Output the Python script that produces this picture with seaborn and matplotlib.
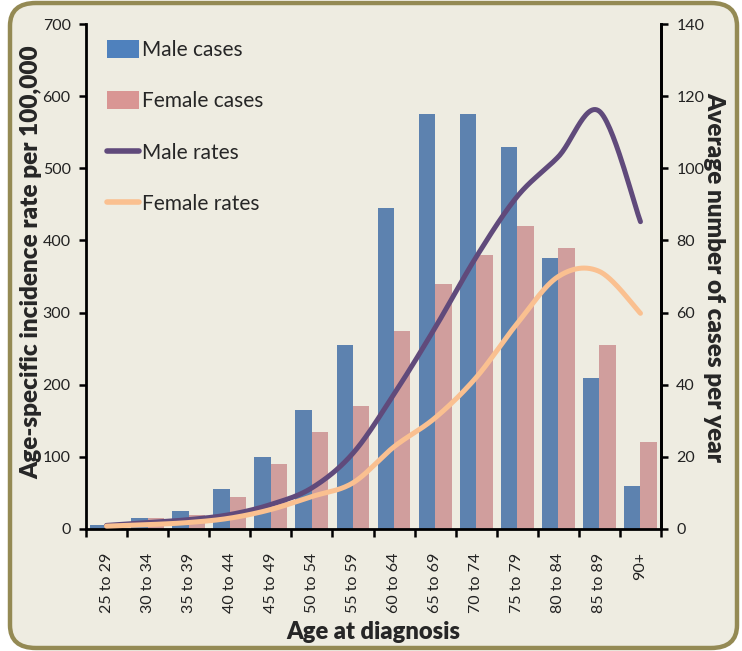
import numpy as np
import pandas as pd
import matplotlib
matplotlib.use("Agg")
import matplotlib.pyplot as plt
from matplotlib.patches import FancyBboxPatch, Patch
from matplotlib.lines import Line2D
import seaborn as sns

age_groups = ["25 to 29", "30 to 34", "35 to 39", "40 to 44", "45 to 49", "50 to 54",
              "55 to 59", "60 to 64", "65 to 69", "70 to 74", "75 to 79", "80 to 84",
              "85 to 89", "90+"]
male_cases = [1, 3, 5, 11, 20, 33, 51, 89, 115, 115, 106, 75, 42, 12]
female_cases = [1.5, 3, 4, 9, 18, 27, 34, 55, 68, 76, 84, 78, 51, 24]
male_rates = [5, 9, 13, 20, 34, 57, 105, 187, 279, 377, 461, 516, 579, 426]
female_rates = [4, 6, 9, 15, 27, 45, 64, 114, 154, 210, 285, 350, 357, 299]

BG = "#EEECE1"
BORDER = "#948A54"
C_MALE_BAR = "#4F81BD"
C_FEMALE_BAR = "#D99694"
C_MALE_LINE = "#604A7B"
C_FEMALE_LINE = "#FAC090"

sns.set_theme(style="white")
plt.rcParams["font.family"] = ["Lato", "DejaVu Sans"]

fig = plt.figure(figsize=(7.42, 6.51), dpi=100)
fig.patch.set_facecolor("white")
box = FancyBboxPatch((10 / 742, 3 / 651), 727 / 742, 645 / 651,
                     boxstyle="round,pad=0,rounding_size=0.035",
                     transform=fig.transFigure, facecolor=BG, edgecolor=BORDER,
                     linewidth=3.2, zorder=-5)
fig.patches.append(box)

ax = fig.add_axes([86 / 742, 1 - 529 / 651, 575 / 742, 505 / 651])
ax.set_facecolor("none")

bars = pd.DataFrame({
    "age": age_groups * 2,
    "cases": male_cases + female_cases,
    "series": ["Male cases"] * len(age_groups) + ["Female cases"] * len(age_groups),
})
sns.barplot(data=bars, x="age", y="cases", hue="series",
            hue_order=["Male cases", "Female cases"],
            palette=[C_MALE_BAR, C_FEMALE_BAR], width=0.8, gap=0,
            linewidth=0, ax=ax, legend=False, zorder=2)
ax.set_ylim(0, 140)
ax.set_xlim(-0.5, len(age_groups) - 0.5)
ax.set_yticks(range(0, 141, 20))

ax2 = ax.twinx()
ax2.set_facecolor("none")
ax2.yaxis.tick_left()
ax2.yaxis.set_label_position("left")
ax.yaxis.tick_right()
ax.yaxis.set_label_position("right")
ax2.set_ylim(0, 700)
ax2.set_yticks(range(0, 701, 100))


def smooth(xs, ys, n=30):
    # Catmull-Rom rendering of the line through the data points (Excel-style smoothing)
    p = np.column_stack([xs, ys]).astype(float)
    p = np.vstack([p[0], p, p[-1]])
    out = []
    for i in range(1, len(p) - 2):
        p0, p1, p2, p3 = p[i - 1], p[i], p[i + 1], p[i + 2]
        t = np.linspace(0, 1, n, endpoint=False)[:, None]
        seg = 0.5 * ((2 * p1) + (-p0 + p2) * t + (2 * p0 - 5 * p1 + 4 * p2 - p3) * t ** 2
                     + (-p0 + 3 * p1 - 3 * p2 + p3) * t ** 3)
        out.append(seg)
    out.append(p[-2][None, :])
    out = np.vstack(out)
    return out[:, 0], out[:, 1]


xpos = np.arange(len(age_groups))
frames = []
for name, vals in [("Male rates", male_rates), ("Female rates", female_rates)]:
    sx, sy = smooth(xpos, vals)
    frames.append(pd.DataFrame({"x": sx, "rate": sy, "series": name}))
lines = pd.concat(frames, ignore_index=True)
sns.lineplot(data=lines, x="x", y="rate", hue="series",
             hue_order=["Male rates", "Female rates"],
             palette=[C_MALE_LINE, C_FEMALE_LINE], sort=False, estimator=None,
             units="series", linewidth=3.6, ax=ax2, legend=False,
             solid_capstyle="round")
ax2.set_xlim(-0.5, len(age_groups) - 0.5)

# x ticks: marks at category boundaries, labels at centres
for a in (ax, ax2):
    a.set_xticks(np.arange(-0.5, len(age_groups), 1.0))
    a.set_xticklabels([])
    a.set_xticks(xpos, minor=True)
ax.set_xticklabels(age_groups, minor=True, rotation=90, fontsize=11.5, color="#222222")
ax.tick_params(axis="x", which="major", length=6, width=1.8, color="black", direction="out", bottom=True)
ax.tick_params(axis="x", which="minor", length=0, pad=17)
ax2.tick_params(axis="x", which="both", length=0, bottom=False, labelbottom=False)

ax.tick_params(axis="y", right=True, left=False, labelright=True, labelleft=False,
               length=5, width=1.8, color="black",
               labelsize=11.5, labelcolor="#222222", pad=6)
ax2.tick_params(axis="y", left=True, right=False, labelleft=True, labelright=False,
                length=5, width=1.8, color="black",
                labelsize=11.5, labelcolor="#222222", pad=6)

for a in (ax, ax2):
    a.spines["top"].set_visible(False)
    for s in ["left", "right", "bottom"]:
        a.spines[s].set_color("black")
        a.spines[s].set_linewidth(2)
ax.spines["left"].set_visible(False)
ax2.spines["bottom"].set_visible(False)

ax.set_xlabel("Age at diagnosis", fontsize=17, fontweight="heavy")
ax.xaxis.set_label_coords(0.5, (529 - 621) / 505)
ax.set_ylabel("Average number of cases per year", fontsize=17.5, fontweight="heavy",
              rotation=-90, labelpad=15)
ax2.set_ylabel("Age-specific incidence rate per 100,000", fontsize=17.5, fontweight="heavy",
               labelpad=5)
ax2.yaxis.set_label_coords((42 - 86) / 575, (529 - 262) / 505)
ax2.set_xlabel("")

handles = [Patch(facecolor=C_MALE_BAR, edgecolor="none"),
           Patch(facecolor=C_FEMALE_BAR, edgecolor="none"),
           Line2D([0], [0], color=C_MALE_LINE, linewidth=4),
           Line2D([0], [0], color=C_FEMALE_LINE, linewidth=4)]
labels = ["Male cases", "Female cases", "Male rates", "Female rates"]
leg = ax2.legend(handles, labels, loc="upper left", bbox_to_anchor=(0.022, 0.985),
                 frameon=False, fontsize=15, handlelength=1.55, handleheight=0.95,
                 handletextpad=0.15, labelspacing=1.5, borderaxespad=0)

fig.savefig("out.png", dpi=100, facecolor=fig.get_facecolor())
